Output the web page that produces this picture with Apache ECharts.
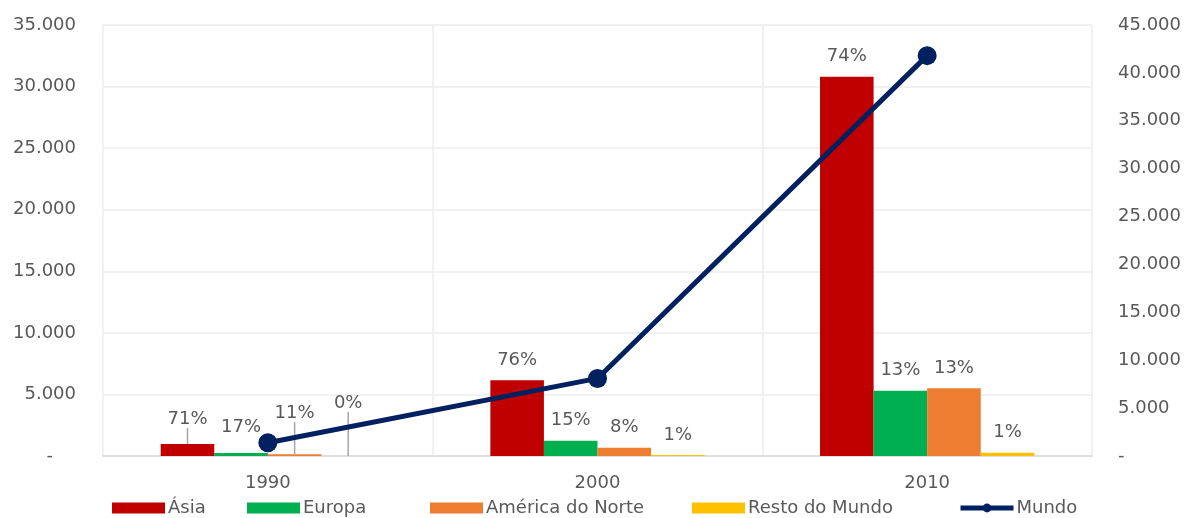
<!DOCTYPE html>
<html>
<head>
<meta charset="utf-8">
<script src="https://cdn.jsdelivr.net/npm/echarts@6/dist/echarts.min.js"></script>
<style>
  html, body { margin: 0; padding: 0; background: #fff; }
  #chart { width: 1185px; height: 518px; }
</style>
</head>
<body>
<div id="chart"></div>
<script>
// Categories and values
const years = ['1990', '2000', '2010'];
const asia = [980, 6150, 30800];
const europa = [235, 1240, 5300];
const americaNorte = [150, 680, 5500];
const restoMundo = [5, 85, 270];
const mundo = [1380, 8100, 41800];

// Legend entries
const legendNames = ['Ásia', 'Europa', 'América do Norte', 'Resto do Mundo', 'Mundo'];

// Axis ranges
const leftMax = 35000;
const rightMax = 45000;
const tickStep = 5000;

const FONT = 'DejaVu Sans';
const TXT = '#595959';

// Share of the world total, shown above each bar
const shareLabel = p => Math.round(p.value / mundo[p.dataIndex] * 100) + '%';
// Thousands separator with dot, zero shown as a dash
const fmtLeft = v => v === 0 ? '-    ' : v.toLocaleString('de-DE');
const fmtRight = v => v === 0 ? '-' : v.toLocaleString('de-DE');

// Extra lift for the crowded 1990 labels (per series)
const lift1990 = { 'Ásia': -5, 'Europa': -6, 'América do Norte': -21, 'Resto do Mundo': -33 };
const leader1990 = { 'Ásia': true, 'Europa': false, 'América do Norte': true, 'Resto do Mundo': true };

function barSeries(name, values, color) {
  return {
    name: name,
    type: 'bar',
    yAxisIndex: 0,
    barGap: '0%',
    barCategoryGap: '35%',
    itemStyle: { color: color },
    data: values.map((v, i) => ({
      value: v,
      labelLine: { show: i === 0 && leader1990[name] }
    })),
    label: {
      show: true,
      position: 'top',
      distance: 11,
      color: TXT,
      fontFamily: FONT,
      fontSize: 18,
      formatter: shareLabel
    },
    labelLine: { show: false, lineStyle: { color: '#a6a6a6', width: 1.5 } },
    labelLayout: p => p.dataIndex === 0 ? { dy: lift1990[name] } : {}
  };
}

// One legend block per entry so each sits at its own spot along the bottom
const legendLeft = [112, 247, 430, 692, 958];
const legends = legendNames.map((n, i) => ({
  bottom: 1,
  left: legendLeft[i],
  padding: 0,
  itemWidth: 53,
  itemHeight: 11,
  textStyle: { color: TXT, fontFamily: FONT, fontSize: 18, padding: [0, 0, 0, -2] },
  data: n === 'Mundo'
    ? [{ name: n, lineStyle: { width: 5, color: '#002060' }, itemStyle: { color: '#002060' } }]
    : [{ name: n, icon: 'rect' }]
}));

const chart = echarts.init(document.getElementById('chart'), null, { renderer: 'canvas' });
chart.setOption({
  animation: false,
  backgroundColor: '#ffffff',
  textStyle: { fontFamily: FONT },
  grid: { left: 103, right: 93, top: 25, bottom: 62, containLabel: false },
  legend: legends,
  xAxis: {
    type: 'category',
    data: years,
    axisLine: { lineStyle: { color: '#d9d9d9', width: 1.5 } },
    axisTick: { show: false },
    axisLabel: { color: TXT, fontFamily: FONT, fontSize: 18, margin: 18 },
    splitLine: { show: true, lineStyle: { color: '#ececec', width: 1.5 } }
  },
  yAxis: [
    {
      type: 'value',
      min: 0,
      max: leftMax,
      interval: tickStep,
      axisLine: { show: false },
      axisTick: { show: false },
      axisLabel: { color: TXT, fontFamily: FONT, fontSize: 18, margin: 27, formatter: fmtLeft },
      splitLine: { lineStyle: { color: '#ececec', width: 1.5 } }
    },
    {
      type: 'value',
      min: 0,
      max: rightMax,
      interval: tickStep,
      axisLine: { show: false },
      axisTick: { show: false },
      axisLabel: { color: TXT, fontFamily: FONT, fontSize: 18, margin: 26, formatter: fmtRight },
      splitLine: { show: false }
    }
  ],
  series: [
    barSeries('Ásia', asia, '#c00000'),
    barSeries('Europa', europa, '#00b050'),
    barSeries('América do Norte', americaNorte, '#ed7d31'),
    barSeries('Resto do Mundo', restoMundo, '#ffc000'),
    {
      name: 'Mundo',
      type: 'line',
      yAxisIndex: 1,
      data: mundo,
      z: 5,
      color: '#002060',
      lineStyle: { color: '#002060', width: 5 },
      itemStyle: { color: '#002060' },
      symbol: 'circle',
      symbolSize: 19,
      label: { show: false }
    }
  ]
});
</script>
</body>
</html>
